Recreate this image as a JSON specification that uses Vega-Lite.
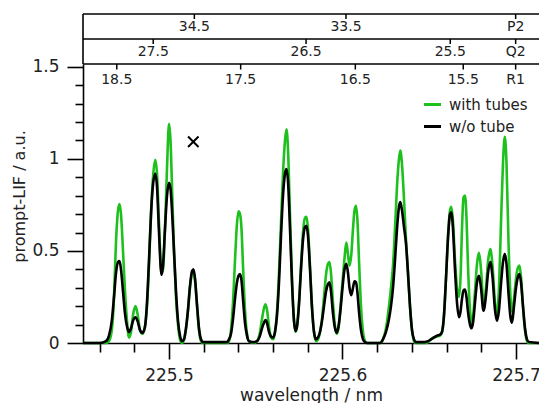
{
  "$schema": "https://vega.github.io/schema/vega-lite/v6.json",
  "padding": {"left": 11, "top": 13, "right": 0, "bottom": 0},
  "spacing": 0,
  "bounds": "flush",
  "config": {
    "font": "DejaVu Sans",
    "view": {"stroke": null},
    "text": {"font": "DejaVu Sans"},
    "axis": {"labelOverlap": false, "grid": false}
  },
  "datasets": {
    "spectra": [
      {"wl": 225.45043, "tubes": 0, "no_tube": 0},
      {"wl": 225.46023, "tubes": 0, "no_tube": 0},
      {"wl": 225.46369, "tubes": 0, "no_tube": 0.01},
      {"wl": 225.46542, "tubes": 0.01, "no_tube": 0.04},
      {"wl": 225.46715, "tubes": 0.08, "no_tube": 0.13},
      {"wl": 225.4683, "tubes": 0.25, "no_tube": 0.25},
      {"wl": 225.46945, "tubes": 0.55, "no_tube": 0.38},
      {"wl": 225.47061, "tubes": 0.72, "no_tube": 0.44},
      {"wl": 225.47147, "tubes": 0.755, "no_tube": 0.445},
      {"wl": 225.47233, "tubes": 0.7, "no_tube": 0.4},
      {"wl": 225.47349, "tubes": 0.5, "no_tube": 0.28},
      {"wl": 225.47464, "tubes": 0.28, "no_tube": 0.16},
      {"wl": 225.47579, "tubes": 0.12, "no_tube": 0.09},
      {"wl": 225.47695, "tubes": 0.03, "no_tube": 0.06},
      {"wl": 225.4781, "tubes": 0.06, "no_tube": 0.08},
      {"wl": 225.47925, "tubes": 0.15, "no_tube": 0.12},
      {"wl": 225.48069, "tubes": 0.2, "no_tube": 0.14},
      {"wl": 225.48184, "tubes": 0.16, "no_tube": 0.12},
      {"wl": 225.48329, "tubes": 0.07, "no_tube": 0.07},
      {"wl": 225.48473, "tubes": 0.05, "no_tube": 0.055},
      {"wl": 225.48617, "tubes": 0.09, "no_tube": 0.09},
      {"wl": 225.48732, "tubes": 0.2, "no_tube": 0.22},
      {"wl": 225.48847, "tubes": 0.42, "no_tube": 0.45},
      {"wl": 225.48963, "tubes": 0.7, "no_tube": 0.7},
      {"wl": 225.49078, "tubes": 0.9, "no_tube": 0.86},
      {"wl": 225.4921, "tubes": 0.995, "no_tube": 0.92},
      {"wl": 225.49308, "tubes": 0.92, "no_tube": 0.85},
      {"wl": 225.49424, "tubes": 0.65, "no_tube": 0.6},
      {"wl": 225.49568, "tubes": 0.38, "no_tube": 0.37},
      {"wl": 225.49654, "tubes": 0.4, "no_tube": 0.42},
      {"wl": 225.49769, "tubes": 0.62, "no_tube": 0.62},
      {"wl": 225.49885, "tubes": 0.95, "no_tube": 0.8},
      {"wl": 225.5, "tubes": 1.19, "no_tube": 0.87},
      {"wl": 225.50086, "tubes": 1.1, "no_tube": 0.84},
      {"wl": 225.50173, "tubes": 0.85, "no_tube": 0.72},
      {"wl": 225.50288, "tubes": 0.5, "no_tube": 0.5},
      {"wl": 225.50403, "tubes": 0.25, "no_tube": 0.28},
      {"wl": 225.50519, "tubes": 0.1, "no_tube": 0.12},
      {"wl": 225.50634, "tubes": 0.02, "no_tube": 0.04},
      {"wl": 225.50749, "tubes": 0, "no_tube": 0.01},
      {"wl": 225.50865, "tubes": 0.02, "no_tube": 0.02},
      {"wl": 225.5098, "tubes": 0.08, "no_tube": 0.08},
      {"wl": 225.51095, "tubes": 0.18, "no_tube": 0.18},
      {"wl": 225.5121, "tubes": 0.3, "no_tube": 0.31},
      {"wl": 225.51326, "tubes": 0.38, "no_tube": 0.39},
      {"wl": 225.51412, "tubes": 0.39, "no_tube": 0.4},
      {"wl": 225.51499, "tubes": 0.34, "no_tube": 0.35},
      {"wl": 225.51614, "tubes": 0.2, "no_tube": 0.21},
      {"wl": 225.51729, "tubes": 0.07, "no_tube": 0.08},
      {"wl": 225.51844, "tubes": 0.01, "no_tube": 0.02},
      {"wl": 225.5196, "tubes": 0, "no_tube": 0.005},
      {"wl": 225.53343, "tubes": 0, "no_tube": 0.005},
      {"wl": 225.53458, "tubes": 0.01, "no_tube": 0.02},
      {"wl": 225.53573, "tubes": 0.07, "no_tube": 0.05},
      {"wl": 225.53689, "tubes": 0.22, "no_tube": 0.13},
      {"wl": 225.53804, "tubes": 0.45, "no_tube": 0.24},
      {"wl": 225.53919, "tubes": 0.65, "no_tube": 0.33},
      {"wl": 225.54006, "tubes": 0.715, "no_tube": 0.365},
      {"wl": 225.54092, "tubes": 0.7, "no_tube": 0.375},
      {"wl": 225.54179, "tubes": 0.62, "no_tube": 0.34},
      {"wl": 225.54265, "tubes": 0.42, "no_tube": 0.24},
      {"wl": 225.5438, "tubes": 0.18, "no_tube": 0.11},
      {"wl": 225.54496, "tubes": 0.05, "no_tube": 0.04},
      {"wl": 225.54611, "tubes": 0.01, "no_tube": 0.01},
      {"wl": 225.54899, "tubes": 0, "no_tube": 0.005},
      {"wl": 225.55072, "tubes": 0.01, "no_tube": 0.01},
      {"wl": 225.55245, "tubes": 0.06, "no_tube": 0.04},
      {"wl": 225.5536, "tubes": 0.13, "no_tube": 0.08},
      {"wl": 225.55476, "tubes": 0.19, "no_tube": 0.11},
      {"wl": 225.55562, "tubes": 0.21, "no_tube": 0.125},
      {"wl": 225.55648, "tubes": 0.18, "no_tube": 0.11},
      {"wl": 225.55764, "tubes": 0.09, "no_tube": 0.06},
      {"wl": 225.55879, "tubes": 0.03, "no_tube": 0.035},
      {"wl": 225.55994, "tubes": 0.02, "no_tube": 0.03},
      {"wl": 225.5611, "tubes": 0.06, "no_tube": 0.06},
      {"wl": 225.56225, "tubes": 0.17, "no_tube": 0.15},
      {"wl": 225.5634, "tubes": 0.38, "no_tube": 0.33},
      {"wl": 225.56455, "tubes": 0.65, "no_tube": 0.58},
      {"wl": 225.56571, "tubes": 0.92, "no_tube": 0.8},
      {"wl": 225.56686, "tubes": 1.1, "no_tube": 0.92},
      {"wl": 225.56772, "tubes": 1.16, "no_tube": 0.945},
      {"wl": 225.56859, "tubes": 1.05, "no_tube": 0.88},
      {"wl": 225.56974, "tubes": 0.7, "no_tube": 0.62},
      {"wl": 225.57089, "tubes": 0.35, "no_tube": 0.33},
      {"wl": 225.57205, "tubes": 0.12, "no_tube": 0.12},
      {"wl": 225.57291, "tubes": 0.06, "no_tube": 0.065},
      {"wl": 225.57378, "tubes": 0.09, "no_tube": 0.09},
      {"wl": 225.57493, "tubes": 0.22, "no_tube": 0.21},
      {"wl": 225.57608, "tubes": 0.42, "no_tube": 0.4},
      {"wl": 225.57723, "tubes": 0.6, "no_tube": 0.56},
      {"wl": 225.57839, "tubes": 0.68, "no_tube": 0.63},
      {"wl": 225.57925, "tubes": 0.685, "no_tube": 0.636},
      {"wl": 225.58012, "tubes": 0.62, "no_tube": 0.58},
      {"wl": 225.58127, "tubes": 0.42, "no_tube": 0.4},
      {"wl": 225.58242, "tubes": 0.2, "no_tube": 0.19},
      {"wl": 225.58357, "tubes": 0.06, "no_tube": 0.06},
      {"wl": 225.58473, "tubes": 0.01, "no_tube": 0.02},
      {"wl": 225.58588, "tubes": 0.02, "no_tube": 0.03},
      {"wl": 225.58703, "tubes": 0.06, "no_tube": 0.06},
      {"wl": 225.58818, "tubes": 0.13, "no_tube": 0.12},
      {"wl": 225.58934, "tubes": 0.25, "no_tube": 0.2},
      {"wl": 225.59049, "tubes": 0.37, "no_tube": 0.28},
      {"wl": 225.59164, "tubes": 0.43, "no_tube": 0.32},
      {"wl": 225.59251, "tubes": 0.44, "no_tube": 0.33},
      {"wl": 225.59337, "tubes": 0.38, "no_tube": 0.28},
      {"wl": 225.59452, "tubes": 0.22, "no_tube": 0.16},
      {"wl": 225.59568, "tubes": 0.09, "no_tube": 0.08},
      {"wl": 225.59666, "tubes": 0.05, "no_tube": 0.056},
      {"wl": 225.59769, "tubes": 0.08, "no_tube": 0.09},
      {"wl": 225.59885, "tubes": 0.2, "no_tube": 0.18},
      {"wl": 225.6, "tubes": 0.33, "no_tube": 0.3},
      {"wl": 225.60115, "tubes": 0.46, "no_tube": 0.4},
      {"wl": 225.60219, "tubes": 0.545, "no_tube": 0.43},
      {"wl": 225.60317, "tubes": 0.48, "no_tube": 0.38},
      {"wl": 225.60403, "tubes": 0.42, "no_tube": 0.3},
      {"wl": 225.60507, "tubes": 0.48, "no_tube": 0.26},
      {"wl": 225.60605, "tubes": 0.62, "no_tube": 0.3},
      {"wl": 225.60692, "tubes": 0.72, "no_tube": 0.335},
      {"wl": 225.60778, "tubes": 0.745, "no_tube": 0.33},
      {"wl": 225.60865, "tubes": 0.66, "no_tube": 0.27},
      {"wl": 225.60951, "tubes": 0.45, "no_tube": 0.17},
      {"wl": 225.61066, "tubes": 0.2, "no_tube": 0.07},
      {"wl": 225.61182, "tubes": 0.06, "no_tube": 0.02},
      {"wl": 225.61297, "tubes": 0.01, "no_tube": 0.005},
      {"wl": 225.61412, "tubes": 0, "no_tube": 0},
      {"wl": 225.62161, "tubes": 0, "no_tube": 0},
      {"wl": 225.62334, "tubes": 0.02, "no_tube": 0.02},
      {"wl": 225.62507, "tubes": 0.08, "no_tube": 0.06},
      {"wl": 225.6268, "tubes": 0.2, "no_tube": 0.13},
      {"wl": 225.62795, "tubes": 0.3, "no_tube": 0.2},
      {"wl": 225.62911, "tubes": 0.42, "no_tube": 0.3},
      {"wl": 225.63026, "tubes": 0.62, "no_tube": 0.45},
      {"wl": 225.63141, "tubes": 0.85, "no_tube": 0.62},
      {"wl": 225.63256, "tubes": 1.0, "no_tube": 0.74},
      {"wl": 225.63331, "tubes": 1.045, "no_tube": 0.765},
      {"wl": 225.63429, "tubes": 0.97, "no_tube": 0.72},
      {"wl": 225.63545, "tubes": 0.78, "no_tube": 0.63},
      {"wl": 225.6366, "tubes": 0.56, "no_tube": 0.54},
      {"wl": 225.63775, "tubes": 0.38, "no_tube": 0.38},
      {"wl": 225.6389, "tubes": 0.2, "no_tube": 0.2},
      {"wl": 225.64006, "tubes": 0.07, "no_tube": 0.07},
      {"wl": 225.64121, "tubes": 0.01, "no_tube": 0.02},
      {"wl": 225.64236, "tubes": 0, "no_tube": 0.005},
      {"wl": 225.64755, "tubes": 0, "no_tube": 0.005},
      {"wl": 225.64928, "tubes": 0.005, "no_tube": 0.01},
      {"wl": 225.65101, "tubes": 0.02, "no_tube": 0.02},
      {"wl": 225.65274, "tubes": 0.03, "no_tube": 0.03},
      {"wl": 225.65447, "tubes": 0.035, "no_tube": 0.04},
      {"wl": 225.6562, "tubes": 0.04, "no_tube": 0.045},
      {"wl": 225.65735, "tubes": 0.06, "no_tube": 0.06},
      {"wl": 225.6585, "tubes": 0.15, "no_tube": 0.15},
      {"wl": 225.65965, "tubes": 0.35, "no_tube": 0.35},
      {"wl": 225.66081, "tubes": 0.58, "no_tube": 0.57},
      {"wl": 225.66196, "tubes": 0.72, "no_tube": 0.7},
      {"wl": 225.66271, "tubes": 0.74, "no_tube": 0.71},
      {"wl": 225.66369, "tubes": 0.66, "no_tube": 0.62},
      {"wl": 225.66484, "tubes": 0.45, "no_tube": 0.4},
      {"wl": 225.66599, "tubes": 0.3, "no_tube": 0.22},
      {"wl": 225.66715, "tubes": 0.25, "no_tube": 0.14},
      {"wl": 225.66801, "tubes": 0.35, "no_tube": 0.17},
      {"wl": 225.66888, "tubes": 0.62, "no_tube": 0.24},
      {"wl": 225.66974, "tubes": 0.79, "no_tube": 0.285},
      {"wl": 225.67061, "tubes": 0.8, "no_tube": 0.29},
      {"wl": 225.67147, "tubes": 0.68, "no_tube": 0.25},
      {"wl": 225.67233, "tubes": 0.42, "no_tube": 0.17},
      {"wl": 225.67349, "tubes": 0.18, "no_tube": 0.1},
      {"wl": 225.67435, "tubes": 0.11, "no_tube": 0.08},
      {"wl": 225.67522, "tubes": 0.14, "no_tube": 0.11},
      {"wl": 225.67637, "tubes": 0.28, "no_tube": 0.22},
      {"wl": 225.67752, "tubes": 0.43, "no_tube": 0.33},
      {"wl": 225.67867, "tubes": 0.49, "no_tube": 0.365},
      {"wl": 225.67983, "tubes": 0.4, "no_tube": 0.3},
      {"wl": 225.68127, "tubes": 0.22, "no_tube": 0.175},
      {"wl": 225.68271, "tubes": 0.3, "no_tube": 0.26},
      {"wl": 225.68386, "tubes": 0.44, "no_tube": 0.38},
      {"wl": 225.68519, "tubes": 0.51, "no_tube": 0.44},
      {"wl": 225.68646, "tubes": 0.42, "no_tube": 0.36},
      {"wl": 225.6879, "tubes": 0.22, "no_tube": 0.18},
      {"wl": 225.68905, "tubes": 0.16, "no_tube": 0.12},
      {"wl": 225.6902, "tubes": 0.3, "no_tube": 0.18},
      {"wl": 225.69135, "tubes": 0.65, "no_tube": 0.32},
      {"wl": 225.69251, "tubes": 0.98, "no_tube": 0.44},
      {"wl": 225.69354, "tubes": 1.12, "no_tube": 0.485},
      {"wl": 225.69452, "tubes": 0.98, "no_tube": 0.43},
      {"wl": 225.69568, "tubes": 0.55, "no_tube": 0.27},
      {"wl": 225.69683, "tubes": 0.25, "no_tube": 0.14},
      {"wl": 225.69769, "tubes": 0.17, "no_tube": 0.11},
      {"wl": 225.69885, "tubes": 0.24, "no_tube": 0.2},
      {"wl": 225.7, "tubes": 0.35, "no_tube": 0.3},
      {"wl": 225.70115, "tubes": 0.41, "no_tube": 0.36},
      {"wl": 225.70202, "tubes": 0.42, "no_tube": 0.375},
      {"wl": 225.70288, "tubes": 0.36, "no_tube": 0.33},
      {"wl": 225.70403, "tubes": 0.2, "no_tube": 0.2},
      {"wl": 225.70519, "tubes": 0.07, "no_tube": 0.08},
      {"wl": 225.70634, "tubes": 0.01, "no_tube": 0.02},
      {"wl": 225.70749, "tubes": 0, "no_tube": 0.005},
      {"wl": 225.71326, "tubes": 0, "no_tube": 0}
    ],
    "assignments": [
      {"branch": "P2", "wl": 225.5146, "label": "34.5"},
      {"branch": "P2", "wl": 225.602, "label": "33.5"},
      {"branch": "P2", "wl": 225.6998, "label": "P2"},
      {"branch": "Q2", "wl": 225.4909, "label": "27.5"},
      {"branch": "Q2", "wl": 225.579, "label": "26.5"},
      {"branch": "Q2", "wl": 225.6621, "label": "25.5"},
      {"branch": "Q2", "wl": 225.6998, "label": "Q2"},
      {"branch": "R1", "wl": 225.4699, "label": "18.5"},
      {"branch": "R1", "wl": 225.5413, "label": "17.5"},
      {"branch": "R1", "wl": 225.6074, "label": "16.5"},
      {"branch": "R1", "wl": 225.6696, "label": "15.5"},
      {"branch": "R1", "wl": 225.6998, "label": "R1"}
    ],
    "marker": [{"wl": 225.514, "lif": 1.093}]
  },
  "vconcat": [
    {
      "width": 456,
      "height": 25,
      "layer": [
        {
          "data": {"values": [{}]},
          "mark": {"type": "rule", "color": "#000", "strokeWidth": 1.6},
          "encoding": {"y": {"datum": 1, "type": "quantitative", "scale": {"domain": [0, 1], "nice": false}, "axis": null}}
        },
        {
          "data": {"values": [{}]},
          "mark": {"type": "rule", "color": "#000", "strokeWidth": 1.6},
          "encoding": {"x": {"datum": 225.45043, "type": "quantitative", "scale": {"domain": [225.45043, 225.71326], "nice": false, "zero": false}, "axis": null}}
        },
        {
          "data": {"name": "assignments"},
          "transform": [{"filter": "datum.branch == 'P2'"}],
          "mark": {"type": "rule", "color": "#000", "strokeWidth": 1.5},
          "encoding": {
            "x": {"field": "wl", "type": "quantitative", "scale": {"domain": [225.45043, 225.71326], "nice": false, "zero": false}, "axis": null},
            "y": {"datum": 1, "type": "quantitative"},
            "y2": {"datum": 0.8}
          }
        },
        {
          "data": {"name": "assignments"},
          "transform": [{"filter": "datum.branch == 'P2'"}],
          "mark": {"type": "text", "fontSize": 14, "baseline": "middle", "color": "#222"},
          "encoding": {
            "x": {"field": "wl", "type": "quantitative", "axis": null},
            "y": {"datum": 0.48, "type": "quantitative"},
            "text": {"field": "label"}
          }
        }
      ]
    },
    {
      "width": 456,
      "height": 25,
      "layer": [
        {
          "data": {"values": [{}]},
          "mark": {"type": "rule", "color": "#000", "strokeWidth": 1.6},
          "encoding": {"y": {"datum": 1, "type": "quantitative", "scale": {"domain": [0, 1], "nice": false}, "axis": null}}
        },
        {
          "data": {"values": [{}]},
          "mark": {"type": "rule", "color": "#000", "strokeWidth": 1.6},
          "encoding": {"x": {"datum": 225.45043, "type": "quantitative", "scale": {"domain": [225.45043, 225.71326], "nice": false, "zero": false}, "axis": null}}
        },
        {
          "data": {"name": "assignments"},
          "transform": [{"filter": "datum.branch == 'Q2'"}],
          "mark": {"type": "rule", "color": "#000", "strokeWidth": 1.5},
          "encoding": {
            "x": {"field": "wl", "type": "quantitative", "scale": {"domain": [225.45043, 225.71326], "nice": false, "zero": false}, "axis": null},
            "y": {"datum": 1, "type": "quantitative"},
            "y2": {"datum": 0.8}
          }
        },
        {
          "data": {"name": "assignments"},
          "transform": [{"filter": "datum.branch == 'Q2'"}],
          "mark": {"type": "text", "fontSize": 14, "baseline": "middle", "color": "#222"},
          "encoding": {
            "x": {"field": "wl", "type": "quantitative", "axis": null},
            "y": {"datum": 0.48, "type": "quantitative"},
            "text": {"field": "label"}
          }
        }
      ]
    },
    {
      "width": 456,
      "height": 279,
      "resolve": {"axis": {"x": "independent", "y": "independent"}},
      "layer": [
        {
          "data": {"name": "spectra"},
          "mark": {"type": "line", "interpolate": "monotone", "strokeWidth": 2.6},
          "encoding": {
            "x": {
              "field": "wl",
              "type": "quantitative",
              "scale": {"domain": [225.45043, 225.71326], "nice": false, "zero": false},
              "axis": {
                "orient": "bottom",
                "title": "wavelength / nm",
                "values": [225.5, 225.6, 225.7],
                "format": ".1f",
                "tickSize": 16,
                "labelFlush": false,
                "labelFontSize": 17,
                "labelColor": "#222",
                "labelPadding": 8,
                "titleFontSize": 17,
                "titleFontWeight": "normal",
                "titleColor": "#222",
                "titlePadding": 4,
                "domainColor": "#000",
                "domainWidth": 1.6,
                "tickColor": "#000",
                "tickWidth": 1.6
              }
            },
            "y": {
              "field": "tubes",
              "type": "quantitative",
              "scale": {"domain": [0, 1.515], "nice": false},
              "axis": {
                "orient": "left",
                "title": "prompt-LIF / a.u.",
                "values": [0, 0.5, 1, 1.5],
                "format": "~g",
                "tickSize": 16,
                "labelFlush": false,
                "labelFontSize": 17,
                "labelColor": "#222",
                "labelPadding": 8,
                "titleFontSize": 16,
                "titleFontWeight": "normal",
                "titleColor": "#222",
                "titlePadding": 4,
                "titleY": 132,
                "domainColor": "#000",
                "domainWidth": 1.6,
                "tickColor": "#000",
                "tickWidth": 1.6
              }
            },
            "color": {
              "datum": "with tubes",
              "type": "nominal",
              "scale": {"domain": ["with tubes", "w/o tube"], "range": ["#1ec01e", "#000000"]},
              "legend": {
                "title": null,
                "orient": "none",
                "legendX": 339,
                "legendY": 80,
                "padding": 0,
                "symbolType": "stroke",
                "symbolStrokeWidth": 3,
                "symbolSize": 290,
                "labelFontSize": 15,
                "labelColor": "#222",
                "labelOffset": 6,
                "rowPadding": 3
              }
            }
          }
        },
        {
          "data": {"name": "spectra"},
          "mark": {"type": "line", "interpolate": "monotone", "strokeWidth": 2.6},
          "encoding": {
            "x": {
              "field": "wl",
              "type": "quantitative",
              "axis": {
                "orient": "bottom",
                "title": null,
                "values": [225.46, 225.48, 225.52, 225.54, 225.56, 225.58, 225.62, 225.64, 225.66, 225.68],
                "labels": false,
                "domain": false,
                "tickSize": 9,
                "tickColor": "#000",
                "tickWidth": 1.6
              }
            },
            "y": {
              "field": "no_tube",
              "type": "quantitative",
              "axis": {
                "orient": "left",
                "title": null,
                "values": [0.1, 0.2, 0.3, 0.4, 0.6, 0.7, 0.8, 0.9, 1.1, 1.2, 1.3, 1.4],
                "labels": false,
                "domain": false,
                "tickSize": 8,
                "tickColor": "#000",
                "tickWidth": 1.6
              }
            },
            "color": {"datum": "w/o tube", "type": "nominal"}
          }
        },
        {
          "data": {"name": "marker"},
          "mark": {"type": "point", "shape": "M-1,-1L1,1M-1,1L1,-1", "filled": false, "color": "#000", "strokeWidth": 2, "size": 110, "opacity": 1},
          "encoding": {
            "x": {"field": "wl", "type": "quantitative", "axis": null},
            "y": {"field": "lif", "type": "quantitative", "axis": null}
          }
        },
        {
          "data": {"values": [{}]},
          "mark": {"type": "rule", "color": "#000", "strokeWidth": 1.6},
          "encoding": {"y": {"datum": 1.515, "type": "quantitative", "axis": null}}
        },
        {
          "data": {"name": "assignments"},
          "transform": [{"filter": "datum.branch == 'R1'"}],
          "mark": {"type": "rule", "color": "#000", "strokeWidth": 1.5},
          "encoding": {
            "x": {"field": "wl", "type": "quantitative", "axis": null},
            "y": {"datum": 1.515, "type": "quantitative", "axis": null},
            "y2": {"datum": 1.485}
          }
        },
        {
          "data": {"name": "assignments"},
          "transform": [{"filter": "datum.branch == 'R1'"}],
          "mark": {"type": "text", "fontSize": 14, "baseline": "middle", "color": "#222"},
          "encoding": {
            "x": {"field": "wl", "type": "quantitative", "axis": null},
            "y": {"datum": 1.43, "type": "quantitative", "axis": null},
            "text": {"field": "label"}
          }
        }
      ]
    }
  ]
}
